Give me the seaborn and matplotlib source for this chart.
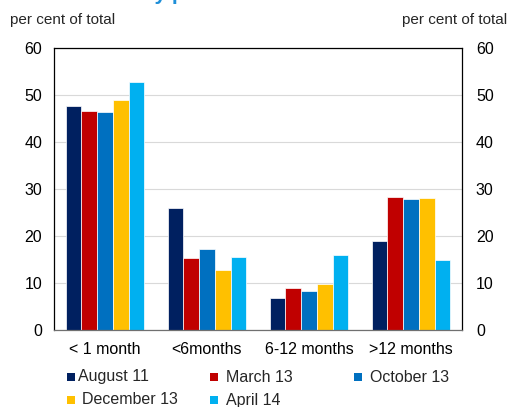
import matplotlib
matplotlib.use("Agg")
import matplotlib.pyplot as plt
import seaborn as sns
import pandas as pd
from matplotlib.patches import Rectangle

categories = ["< 1 month", "<6months", "6-12 months", ">12 months"]
series = ["August 11", "March 13", "October 13", "December 13", "April 14"]
aug11 = [47.7, 26.0, 6.9, 18.9]
mar13 = [46.5, 15.3, 9.0, 28.4]
oct13 = [46.3, 17.2, 8.2, 27.9]
dec13 = [48.9, 12.7, 9.7, 28.1]
apr14 = [52.7, 15.6, 16.0, 15.0]
colors = ["#002060", "#C00000", "#0070C0", "#FFC000", "#00B0F0"]
yticks = [0, 10, 20, 30, 40, 50, 60]

rows = []
for s, vals in zip(series, [aug11, mar13, oct13, dec13, apr14]):
    for c, v in zip(categories, vals):
        rows.append({"cat": c, "series": s, "value": v})
df = pd.DataFrame(rows)

sns.set_theme(style="white")
plt.rcParams["font.family"] = ["Liberation Sans", "DejaVu Sans"]

W, H = 510, 407
fig = plt.figure(figsize=(W/100, H/100), dpi=100)
ax = fig.add_axes([54/W, 1-330/H, (462-54)/W, (330-48)/H])
sns.barplot(data=df, x="cat", y="value", hue="series", order=categories,
            hue_order=series, palette=colors, saturation=1, width=0.77, ax=ax,
            edgecolor="white", linewidth=0.5, legend=False)

ax.set_ylim(0, 60)
ax.set_yticks(yticks)
ax.set_xlim(-0.5, 3.5)
ax.grid(axis="y", color="#d9d9d9", linewidth=0.8)
ax.set_axisbelow(True)
for sp in ax.spines.values():
    sp.set_visible(True)
    sp.set_color("black")
    sp.set_linewidth(0.9)
ax.spines["bottom"].set_color("#707070")
ax.set_xlabel("")
ax.set_ylabel("")
ax.tick_params(axis="both", length=0, labelsize=11.5, colors="black")
ax.tick_params(axis="y", pad=8.5)
ax.tick_params(axis="x", pad=9)

ax2 = ax.twinx()
ax2.set_ylim(0, 60)
ax2.set_yticks(yticks)
ax2.tick_params(axis="y", length=0, labelsize=11.5, pad=10, colors="black")
for sp in ax2.spines.values():
    sp.set_visible(False)

fig.text(10/W, 1-20/H, "per cent of total", fontsize=11, va="center", ha="left")
fig.text(507/W, 1-20/H, "per cent of total", fontsize=11, va="center", ha="right")
fig.text(0.0, 1.0, "Chart 5: Maturity profile of debt securities", fontsize=15,
         fontweight="bold", color="#1F8FD8", va="baseline", ha="left")

# legend entries (row-major, as in the reference)
leg_pos = [(67, 377, 78), (210, 377, 226), (354, 377, 370), (67, 400, 82), (210, 400, 226)]
for (mx, my, tx), c, s in zip(leg_pos, colors, series):
    fig.patches.append(Rectangle((mx/W, 1-(my+4)/H), 8/W, 8/H, facecolor=c,
                                 edgecolor="none", transform=fig.transFigure, figure=fig))
    fig.text(tx/W, 1-my/H, s, fontsize=11.5, va="center", ha="left")

fig.savefig("out.png", dpi=100)
